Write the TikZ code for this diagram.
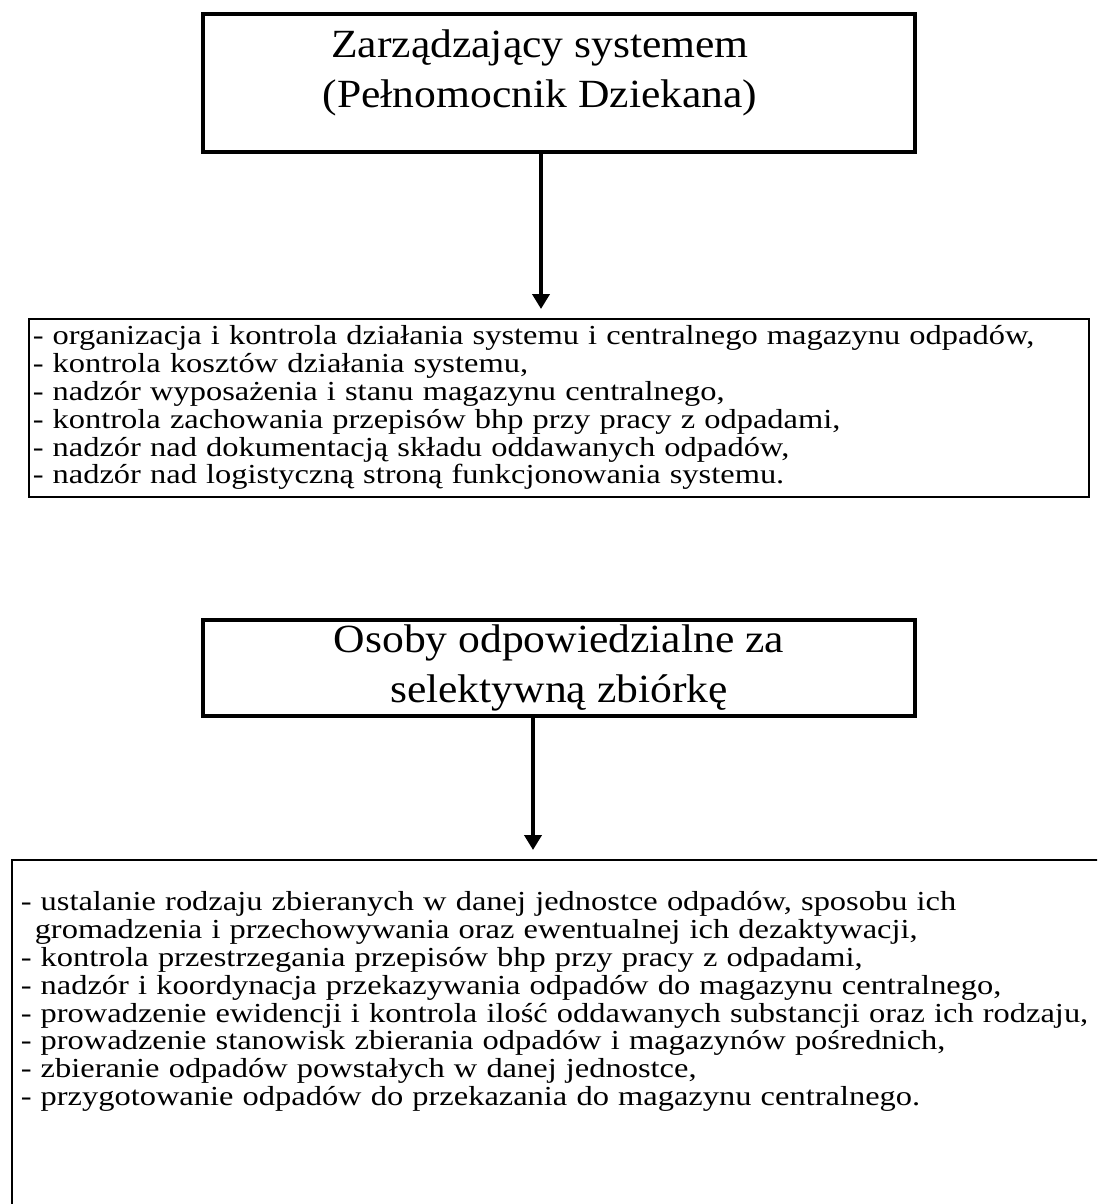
\documentclass[tikz,border=0pt]{standalone}
\usepackage{fontspec}
\setmainfont{Liberation Serif}
\newfontfamily\listfamily[FakeStretch=1.18]{Liberation Serif}
\newfontfamily\titlefamily[FakeStretch=1.09]{Liberation Serif}
\usetikzlibrary{positioning,arrows.meta}
\newcommand{\listfont}{\listfamily\fontsize{27.5pt}{27.8pt}\selectfont}
\newcommand{\titlefont}{\titlefamily\fontsize{40pt}{50pt}\selectfont}
\tikzstyle{thickbox} = [rectangle, draw=black, line width=4pt, minimum width=712pt]
\tikzstyle{listbox} = [rectangle, draw=black, line width=1.5pt, align=left, anchor=north west, font=\listfont]
\tikzstyle{title} = [align=center, font=\titlefont]
\tikzstyle{arrow} = [line width=4pt, -{Triangle[width=17pt,length=15pt]}, shorten >=9pt]

\begin{document}
\begin{tikzpicture}[x=1pt, y=-1pt]
\useasboundingbox (0,0) rectangle (1097,1204);
\clip (0,0) rectangle (1097,1204);
% Zarzadzajacy systemem
\node (boss) [thickbox, minimum height=138pt] at (559,83) {};
\node (bosstext) [title] at ([xshift=-19pt, yshift=10pt]boss.center) {Zarządzający systemem\\(Pełnomocnik Dziekana)};

% zadania pelnomocnika
\node (duties) [listbox, text width=1052pt, inner xsep=4pt, minimum height=178pt] at (28,318) {%
- organizacja i kontrola działania systemu i centralnego magazynu odpadów,\\
- kontrola kosztów działania systemu,\\
- nadzór wyposażenia i stanu magazynu centralnego,\\
- kontrola zachowania przepisów bhp przy pracy z odpadami,\\
- nadzór nad dokumentacją składu oddawanych odpadów,\\
- nadzór nad logistyczną stroną funkcjonowania systemu.};
\draw [arrow] ([xshift=-18pt]boss.south) -- ([xshift=-18pt]boss.south |- duties.north);

% Osoby odpowiedzialne
\node (collect) [thickbox, minimum height=96pt] at (559,668) {};
\node (collecttext) [title] at (collect.center) {Osoby odpowiedzialne za\\selektywną zbiórkę};

% zadania osob odpowiedzialnych
\node (tasks) [listbox, text width=1100pt, inner xsep=9pt, inner ysep=32pt] at (11,859) {%
- ustalanie rodzaju zbieranych w danej jednostce odpadów, sposobu ich\\
\hspace*{14pt}gromadzenia i przechowywania oraz ewentualnej ich dezaktywacji,\\
- kontrola przestrzegania przepisów bhp przy pracy z odpadami,\\
- nadzór i koordynacja przekazywania odpadów do magazynu centralnego,\\
- prowadzenie ewidencji i kontrola ilość oddawanych substancji oraz ich rodzaju,\\
- prowadzenie stanowisk zbierania odpadów i magazynów pośrednich,\\
- zbieranie odpadów powstałych w danej jednostce,\\
- przygotowanie odpadów do przekazania do magazynu centralnego.\\
\mbox{}\\ \mbox{}\\ \mbox{}\\ \mbox{}};
\draw [arrow] ([xshift=-26pt]collect.south) -- ([xshift=-26pt]collect.south |- tasks.north);
\end{tikzpicture}
\end{document}
